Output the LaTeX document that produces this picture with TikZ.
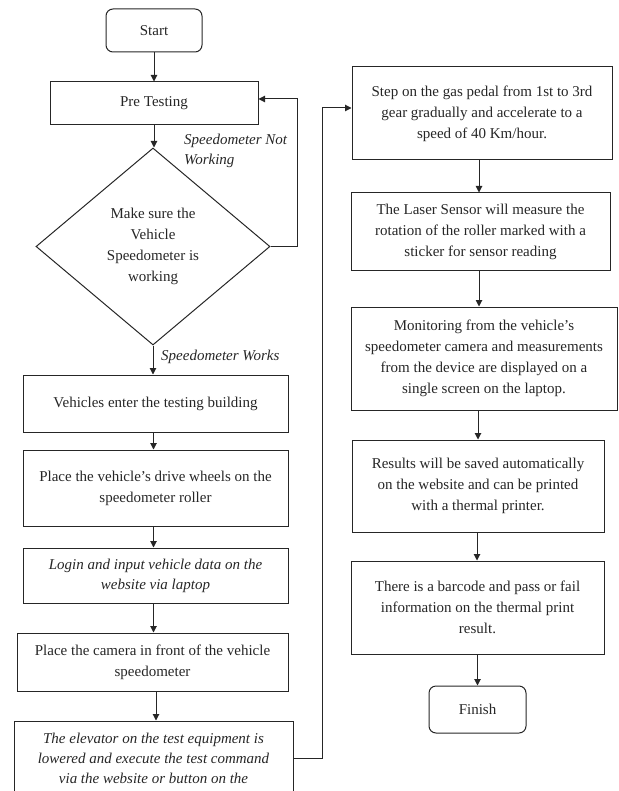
\documentclass[tikz,border=0pt]{standalone}
\usepackage{fontspec}
\setmainfont{Liberation Serif}
\usetikzlibrary{shapes.geometric,arrows.meta}
\definecolor{linec}{HTML}{262626}
\begin{document}
\begin{tikzpicture}[x=1pt,y=-1pt,
  every node/.style={font=\fontsize{15}{21}\selectfont, text=linec},
  box/.style={draw=linec, line width=1pt, align=center, inner sep=0pt},
  term/.style={box, rounded corners=7pt},
  ital/.style={font=\fontsize{15}{20}\selectfont\itshape},
  arr/.style={draw=linec, line width=1pt, -{Triangle[length=6.5pt,width=6.5pt]}},
  lab/.style={font=\fontsize{15}{20}\selectfont\itshape, align=left, anchor=west, inner sep=0pt}]
\useasboundingbox (0,0) rectangle (618,791);
\clip (0,0) rectangle (618,791);
% left column
\node[term, minimum width=96pt, minimum height=43pt] (start) at (154,30.5) {Start};
\node[box, minimum width=208pt, minimum height=43pt] (pre) at (154,103.5) {Pre Testing};
\node[box, shape=diamond, minimum width=234pt, minimum height=197pt] (dia) at (153,246.5)
  {Make sure the\\Vehicle\\Speedometer is\\working};
\node[box, minimum width=265pt, minimum height=57pt] (veh) at (155.5,403.5) {Vehicles enter the testing building};
\node[box, minimum width=265pt, minimum height=76pt] (wheel) at (155.5,488)
  {Place the vehicle's drive wheels on the\\speedometer roller};
\node[box, ital, minimum width=265pt, minimum height=55pt] (login) at (155.5,575.5)
  {Login and input vehicle data on the\\website via laptop};
\node[box, minimum width=271pt, minimum height=58pt] (cam) at (152.5,662)
  {Place the camera in front of the vehicle\\speedometer};
\node[box, ital, minimum width=279pt, minimum height=74pt] (elev) at (153.5,758)
  {The elevator on the test equipment is\\lowered and execute the test command\\via the website or button on the};
% right column
\node[box, minimum width=260pt, minimum height=93pt] (step) at (482,113.5)
  {Step on the gas pedal from 1st to 3rd\\gear gradually and accelerate to a\\speed of 40 Km/hour.};
\node[box, minimum width=259pt, minimum height=77pt] (laser) at (480.5,231.5)
  {The Laser Sensor will measure the\\rotation of the roller marked with a\\sticker for sensor reading};
\node[box, minimum width=266pt, minimum height=103pt] (mon) at (484,358.5)
  {Monitoring from the vehicle's\\speedometer camera and measurements\\from the device are displayed on a\\single screen on the laptop.};
\node[box, minimum width=252pt, minimum height=92pt] (res) at (478,486)
  {Results will be saved automatically\\on the website and can be printed\\with a thermal printer.};
\node[box, minimum width=253pt, minimum height=93pt] (bar) at (477.5,607.5)
  {There is a barcode and pass or fail\\information on the thermal print\\result.};
\node[term, minimum width=97pt, minimum height=47pt] (fin) at (477.5,709.5) {Finish};
% labels
\node[lab] (lnw) at (184,151) {Speedometer Not\\Working};
\node[lab] (lw) at (161,357) {Speedometer Works};
% connectors
\draw[arr] (start.south) -- (start.south |- pre.north);
\draw[arr] (pre.south) -- (pre.south |- dia.north);
\draw[arr] (dia.east) -- ++(27,0) |- ([yshift=4.5pt]pre.east);
\draw[arr] (dia.south) -- (dia.south |- veh.north);
\draw[arr] ([xshift=-2pt]veh.south) -- ([xshift=-2pt]veh.south |- wheel.north);
\draw[arr] ([xshift=-2pt]wheel.south) -- ([xshift=-2pt]wheel.south |- login.north);
\draw[arr] ([xshift=-2pt]login.south) -- ([xshift=-2pt]login.south |- cam.north);
\draw[arr] ([xshift=3.5pt]cam.south) -- ([xshift=3.5pt]cam.south |- elev.north);
\draw[arr] (elev.east) -- ++(29,0) |- ([yshift=5.5pt]step.west);
\draw[arr] ([xshift=-3pt]step.south) -- ([xshift=-3pt]step.south |- laser.north);
\draw[arr] ([xshift=-1.5pt]laser.south) -- ([xshift=-1.5pt]laser.south |- mon.north);
\draw[arr] ([xshift=-6pt]mon.south) -- ([xshift=-6pt]mon.south |- res.north);
\draw[arr] ([xshift=-1pt]res.south) -- ([xshift=-1pt]res.south |- bar.north);
\draw[arr] (bar.south) -- (bar.south |- fin.north);
\end{tikzpicture}
\end{document}
